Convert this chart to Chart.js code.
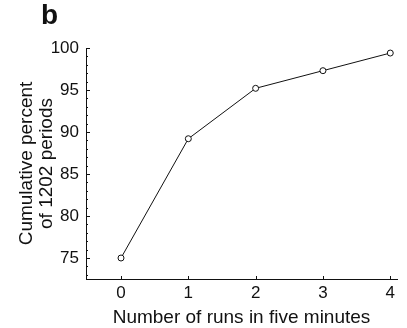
<!DOCTYPE html>
<html>
<head>
<meta charset="utf-8">
<script src="https://cdn.jsdelivr.net/npm/chart.js@4"></script>
<style>
    body { margin: 0; background: #fff; }
    #wrap { position: relative; width: 407px; height: 328px; }
    #panel { position: absolute; left: 41px; top: 1px; font: bold 28px/1 "Liberation Sans", Arial, sans-serif; color: #111; }
</style>
</head>
<body>
<div id="wrap">
    <canvas id="chart1" width="407" height="328"></canvas>
    <div id="panel">b</div>
</div>
<script>
// data
const runs = [0, 1, 2, 3, 4];
const cumPercent = [75.0, 89.2, 95.2, 97.3, 99.4];
const xTicks = [0, 1, 2, 3, 4];
const yTicks = [75, 80, 85, 90, 95, 100];

const tickFont = {family: '"Liberation Sans", Arial, sans-serif', size: 17};
const titleFont = {family: '"Liberation Sans", Arial, sans-serif', size: 19, lineHeight: 1.05};

// small inward tick marks, like the printed figure
const innerTicks = {
    id: 'innerTicks',
    afterDraw(chart) {
        const ctx = chart.ctx;
        const x = chart.scales.x;
        const y = chart.scales.y;
        ctx.save();
        ctx.strokeStyle = '#111';
        ctx.lineWidth = 1;
        ctx.beginPath();
        for (let v = 73; v <= 100; v++) {
            const py = Math.round(y.getPixelForValue(v)) + 0.5;
            const len = v % 5 === 0 ? 4 : 2;
            ctx.moveTo(x.left, py);
            ctx.lineTo(x.left + len, py);
        }
        xTicks.forEach(v => {
            const px = Math.round(x.getPixelForValue(v)) + 0.5;
            ctx.moveTo(px, y.bottom);
            ctx.lineTo(px, y.bottom - 3);
        });
        ctx.stroke();
        ctx.restore();
    }
};

const chart1 = new Chart(document.getElementById('chart1'), {
    type: 'line',
    data: {
        datasets: [{
            data: runs.map((r, i) => ({x: r, y: cumPercent[i]})),
            borderColor: '#111',
            borderWidth: 1,
            tension: 0,
            pointRadius: 3,
            pointBackgroundColor: '#fff',
            pointBorderColor: '#111',
            pointBorderWidth: 1
        }]
    },
    options: {
        responsive: false,
        animation: false,
        layout: {padding: {top: 48, right: 10, left: 0, bottom: 0}},
        plugins: {legend: {display: false}, tooltip: {enabled: false}},
        scales: {
            x: {
                type: 'linear',
                min: -0.52,
                max: 4.1,
                afterBuildTicks: s => { s.ticks = xTicks.map(v => ({value: v})); },
                afterFit: s => { s.height = 49; },
                grid: {display: true, drawOnChartArea: false, drawTicks: false},
                border: {display: true, color: '#111', width: 1},
                ticks: {color: '#111', font: tickFont, padding: 4, maxRotation: 0},
                title: {display: true, text: 'Number of runs in five minutes', color: '#111', font: titleFont, padding: {top: 1, bottom: 0}}
            },
            y: {
                min: 72.5,
                max: 100,
                afterBuildTicks: s => { s.ticks = yTicks.map(v => ({value: v})); },
                afterFit: s => { s.width = 86; },
                grid: {display: true, drawOnChartArea: false, drawTicks: false},
                border: {display: true, color: '#111', width: 1},
                ticks: {color: '#111', font: tickFont, padding: 7},
                title: {display: true, text: ['Cumulative percent', 'of 1202 periods'], color: '#111', font: titleFont, padding: {top: 17, bottom: 0}}
            }
        }
    },
    plugins: [innerTicks]
});
</script>
</body>
</html>
